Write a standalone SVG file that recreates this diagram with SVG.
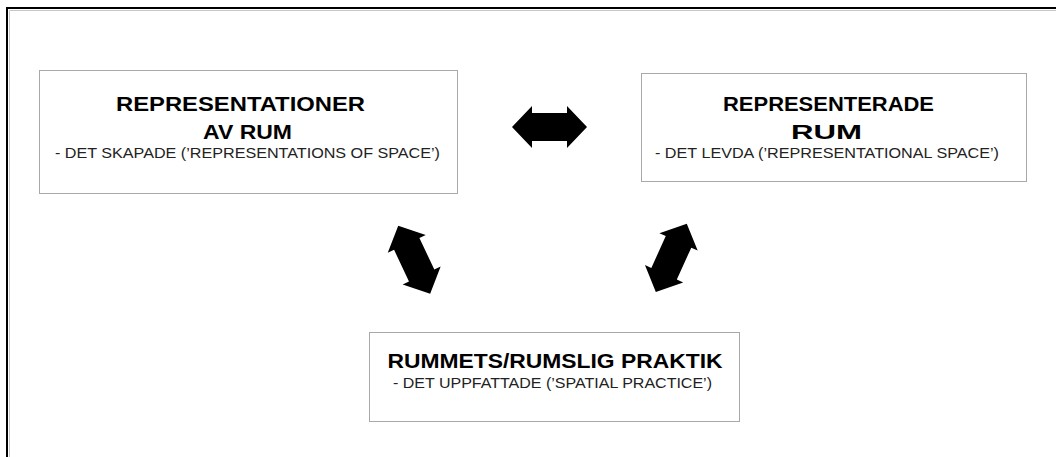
<svg xmlns="http://www.w3.org/2000/svg" width="1056" height="457" viewBox="0 0 1056 457">
  <style>
    .box { fill: #ffffff; stroke: #a8a8a8; stroke-width: 1; }
    .title { font-family: "Liberation Sans", Arial, sans-serif; font-weight: bold; font-size: 20px; fill: #000; text-anchor: middle; }
    .title3 { font-family: "Liberation Sans", Arial, sans-serif; font-weight: bold; font-size: 21px; fill: #000; text-anchor: middle; }
    .sub { font-family: "Liberation Sans", Arial, sans-serif; font-size: 15px; fill: #222; text-anchor: middle; }
    .arrow { fill: #000; }
  </style>
  <defs>
    <path id="dbl" d="M-37.5,0 L-17.5,-21 L-17.5,-14 L17.5,-14 L17.5,-21 L37.5,0 L17.5,21 L17.5,14 L-17.5,14 L-17.5,21 Z"/>
  </defs>
  <rect x="0" y="0" width="1056" height="457" fill="#ffffff"/>
  <g id="frame">
    <path d="M9.5,457 V10.5 H1056" fill="none" stroke="#c8c8c8" stroke-width="1"/>
    <path d="M7,457 V8 H1056" fill="none" stroke="#000" stroke-width="2"/>
  </g>
  <g id="node-representationer">
    <rect class="box" x="39.5" y="70.5" width="418" height="123"/>
    <text class="title" x="240.5" y="111" textLength="249" lengthAdjust="spacingAndGlyphs">REPRESENTATIONER</text>
    <text class="title" x="247.5" y="139" textLength="89" lengthAdjust="spacingAndGlyphs">AV RUM</text>
    <text class="sub" x="247.5" y="158" textLength="385" lengthAdjust="spacingAndGlyphs">- DET SKAPADE (’REPRESENTATIONS OF SPACE’)</text>
  </g>
  <g id="node-representerade">
    <rect class="box" x="641.5" y="73.5" width="385" height="108"/>
    <text class="title" x="828.5" y="111" textLength="211" lengthAdjust="spacingAndGlyphs">REPRESENTERADE</text>
    <text class="title" x="826.5" y="139" textLength="71" lengthAdjust="spacingAndGlyphs">RUM</text>
    <text class="sub" x="827" y="158" textLength="344" lengthAdjust="spacingAndGlyphs">- DET LEVDA (’REPRESENTATIONAL SPACE’)</text>
  </g>
  <g id="node-praktik">
    <rect class="box" x="369.5" y="332.5" width="370" height="89"/>
    <text class="title3" x="555" y="368" textLength="335" lengthAdjust="spacingAndGlyphs">RUMMETS/RUMSLIG PRAKTIK</text>
    <text class="sub" x="552.5" y="388" textLength="319" lengthAdjust="spacingAndGlyphs">- DET UPPFATTADE (’SPATIAL PRACTICE’)</text>
  </g>
  <g id="connectors">
    <use href="#dbl" class="arrow" transform="translate(549.5,127)"/>
    <use href="#dbl" class="arrow" transform="translate(414.2,259.7) rotate(64.8)"/>
    <use href="#dbl" class="arrow" transform="translate(671.3,257.8) rotate(114.4)"/>
  </g>
</svg>
